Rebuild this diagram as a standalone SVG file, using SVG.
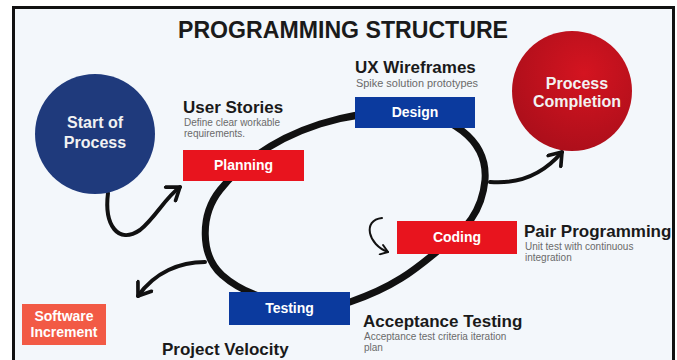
<svg xmlns="http://www.w3.org/2000/svg" width="677" height="360" viewBox="0 0 677 360">
<defs>
<radialGradient id="redg" cx="0.6" cy="0.35" r="0.75">
<stop offset="0" stop-color="#d41420"/>
<stop offset="1" stop-color="#a80e1a"/>
</radialGradient>
<marker id="arr" viewBox="0 0 12 12" refX="9" refY="6" markerWidth="5" markerHeight="5" orient="auto" markerUnits="strokeWidth">
<path d="M2,1 L9,6 L2,11" fill="none" stroke="#111" stroke-width="2.2" stroke-linecap="round" stroke-linejoin="round"/>
</marker>
<marker id="arrs" viewBox="0 0 12 12" refX="9" refY="6" markerWidth="6" markerHeight="6" orient="auto" markerUnits="strokeWidth">
<path d="M2,1 L9,6 L2,11" fill="none" stroke="#111" stroke-width="2" stroke-linecap="round" stroke-linejoin="round"/>
</marker>
</defs>
<style>
.h{font-family:"Liberation Sans",Arial,sans-serif;font-weight:bold;font-size:17px;fill:#1a1a1a}
.s{font-family:"Liberation Sans",Arial,sans-serif;font-size:10px;fill:#6a6a6a}
.bt{font-family:"Liberation Sans",Arial,sans-serif;font-weight:bold;font-size:14px;fill:#fff;text-anchor:middle}
.ct{font-family:"Liberation Sans",Arial,sans-serif;font-weight:bold;font-size:16px;fill:#f2f2f2;text-anchor:middle}
.red{fill:#e8141e}
.blue{fill:#0b3a9e}
.conn{fill:none;stroke:#111;stroke-linecap:round}
</style>
<rect x="0" y="0" width="677" height="360" fill="#ffffff"/>
<rect x="13.5" y="7.5" width="660" height="360" fill="#f3f7fb" stroke="#111" stroke-width="3"/>
<text x="343" y="38" font-family="'Liberation Sans',Arial,sans-serif" font-weight="bold" font-size="24" fill="#1a1a1a" text-anchor="middle" textLength="330" lengthAdjust="spacingAndGlyphs">PROGRAMMING STRUCTURE</text>

<g id="connectors">
<path class="conn" stroke-width="7" d="M 400 112 C 450 112, 488 140, 485 180 C 482 212, 465 230, 445 245 C 420 265, 400 285, 350 302 C 310 315, 250 300, 222 275 C 200 255, 200 215, 220 190 C 240 165, 270 140, 320 124 C 345 116, 370 112, 400 112 Z"/>
<path class="conn" stroke-width="4" marker-end="url(#arr)" d="M 108 193 C 104 225, 118 245, 140 230 C 155 218, 165 198, 180 187"/>
<path class="conn" stroke-width="4" marker-end="url(#arr)" d="M 490 182 C 515 184, 540 178, 562 152"/>
<path class="conn" stroke-width="2" marker-end="url(#arrs)" d="M 382 218 C 362 220, 368 245, 388 252"/>
<path class="conn" stroke-width="4" marker-end="url(#arr)" d="M 205 262 C 180 262, 155 272, 138 296"/>
</g>

<g id="start">
<circle cx="95" cy="134" r="60" fill="#1f3a7c"/>
<text class="ct" x="95" y="128">Start of</text>
<text class="ct" x="95" y="148">Process</text>
</g>

<g id="completion">
<circle cx="572" cy="91" r="60" fill="url(#redg)"/>
<text class="ct" x="577" y="89" font-size="15">Process</text>
<text class="ct" x="577" y="107" font-size="15">Completion</text>
</g>

<g id="planning">
<text class="h" x="183" y="113">User Stories</text>
<text class="s" x="184" y="126">Define clear workable</text>
<text class="s" x="184" y="137">requirements.</text>
<rect class="red" x="183" y="150" width="121" height="31"/>
<text class="bt" x="243.5" y="170">Planning</text>
</g>

<g id="design">
<text class="h" x="355" y="73">UX Wireframes</text>
<text class="s" x="356" y="87" textLength="122" lengthAdjust="spacingAndGlyphs">Spike solution prototypes</text>
<rect class="blue" x="355" y="97" width="120" height="31"/>
<text class="bt" x="415" y="117">Design</text>
</g>

<g id="coding">
<rect class="red" x="397" y="221" width="120" height="33"/>
<text class="bt" x="457" y="242">Coding</text>
<text class="h" x="524" y="237" font-size="16">Pair Programming</text>
<text class="s" x="525" y="250">Unit test with continuous</text>
<text class="s" x="525" y="261">integration</text>
</g>

<g id="testing">
<rect class="blue" x="229" y="292" width="121" height="33"/>
<text class="bt" x="289.5" y="313">Testing</text>
<text class="h" x="363" y="327">Acceptance Testing</text>
<text class="s" x="364" y="340">Acceptance test criteria iteration</text>
<text class="s" x="364" y="351">plan</text>
</g>

<g id="increment">
<rect x="22" y="304" width="84" height="41" fill="#f25a45"/>
<text class="bt" x="64" y="321" font-size="13" fill="#ffe9e4">Software</text>
<text class="bt" x="64" y="337" font-size="13" fill="#ffe9e4">Increment</text>
</g>

<g id="velocity">
<text class="h" x="162" y="355">Project Velocity</text>
</g>
</svg>
